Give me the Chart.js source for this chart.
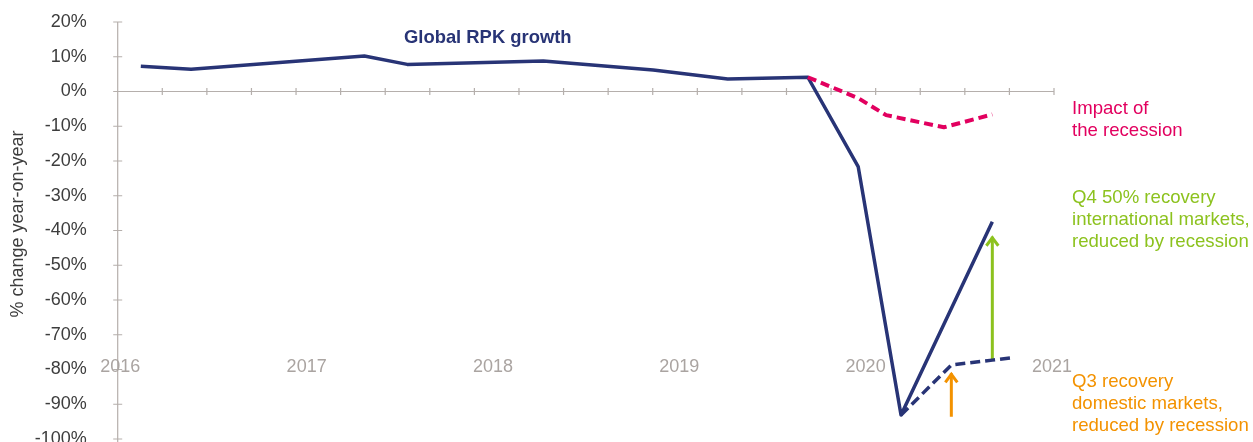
<!DOCTYPE html>
<html>
<head>
<meta charset="utf-8">
<script src="https://cdn.jsdelivr.net/npm/chart.js@4/dist/chart.umd.min.js"></script>
<style>
    html, body { margin: 0; padding: 0; background: #fff; overflow: hidden; }
    #wrap { position: absolute; left: 0; top: 0; width: 1253px; height: 460px; }
</style>
</head>
<body>
<div id="wrap"><canvas id="rpkChart" width="1253" height="460"></canvas></div>
<script>
// ─── Data ─────────────────────────────────────────────────
// x values are decimal years, y values are % change year-on-year
const rpkX       = [2016.11, 2016.38, 2017.31, 2017.54, 2018.27, 2018.86, 2019.26, 2019.69, 2019.96, 2020.19, 2020.68];
const rpkY       = [7.3, 6.4, 10.2, 7.8, 8.8, 6.2, 3.6, 4.1, -21.6, -93.1, -37.5];

const domesticX  = [2020.19, 2020.46, 2020.68, 2020.79];
const domesticY  = [-93.1, -78.7, -77.3, -76.6];

const recessionX = [2019.69, 2019.96, 2020.11, 2020.42, 2020.68];
const recessionY = [4.1, -1.9, -6.8, -10.3, -6.6];

// recovery arrows: [Q4 international, Q3 domestic]
const arrowX     = [2020.68, 2020.46];
const arrowFrom  = [-77.3, -93.6];
const arrowTo    = [-41.8, -81.1];

const yearLabels = ['2016', '2017', '2018', '2019', '2020', '2021'];
const yearValues = [2016, 2017, 2018, 2019, 2020, 2021];

const X_MIN = 2015.986, X_MAX = 2021.011, X_TICKS = 21;
const Y_MIN = -100, Y_MAX = 20, Y_STEP = 10;

// ─── Style ────────────────────────────────────────────────
const FONT   = "'Liberation Sans', Arial, Helvetica, sans-serif";
const NAVY   = '#283476';
const PINK   = '#e2005f';
const GREEN  = '#8cc21e';
const ORANGE = '#f39200';
const AXIS   = '#b5afac';

const pts = (xs, ys) => xs.map((x, i) => ({ x, y: ys[i] }));

// ─── Plugins ──────────────────────────────────────────────
// axis lines with tick marks crossing them
const axesPlugin = {
    id: 'axes',
    beforeDatasetsDraw(chart) {
        const { ctx, scales: { x, y } } = chart;
        const y0 = y.getPixelForValue(0);
        ctx.save();
        ctx.strokeStyle = AXIS;
        ctx.lineWidth = 1.2;
        ctx.beginPath();
        ctx.moveTo(x.left, y.getPixelForValue(Y_MAX));
        ctx.lineTo(x.left, chart.height);
        ctx.moveTo(x.left, y0);
        ctx.lineTo(x.right, y0);
        for (let v = Y_MIN; v <= Y_MAX; v += Y_STEP) {
            const py = y.getPixelForValue(v);
            ctx.moveTo(x.left - 4.5, py);
            ctx.lineTo(x.left + 4.5, py);
        }
        const step = (X_MAX - X_MIN) / X_TICKS;
        for (let i = 0; i <= X_TICKS; i++) {
            const px = x.getPixelForValue(X_MIN + i * step);
            ctx.moveTo(px, y0 - 3.5);
            ctx.lineTo(px, y0 + 3.5);
        }
        ctx.stroke();
        ctx.restore();
    }
};

// open chevron heads on the recovery arrows
const arrowPlugin = {
    id: 'arrows',
    afterDatasetsDraw(chart) {
        const { ctx } = chart;
        chart.data.datasets.forEach((ds, i) => {
            if (!ds.arrowHead) return;
            const meta = chart.getDatasetMeta(i);
            const tip = meta.data[meta.data.length - 1];
            ctx.save();
            ctx.strokeStyle = ds.borderColor;
            ctx.lineWidth = 3;
            ctx.lineJoin = 'miter';
            ctx.beginPath();
            ctx.moveTo(tip.x - 6, tip.y + 9);
            ctx.lineTo(tip.x, tip.y + 1);
            ctx.lineTo(tip.x + 6, tip.y + 9);
            ctx.stroke();
            ctx.restore();
        });
    }
};

const textPlugin = {
    id: 'texts',
    afterDraw(chart) {
        const { ctx, scales: { x, y } } = chart;
        ctx.save();

        // y axis title
        ctx.save();
        ctx.translate(18, 224);
        ctx.rotate(-Math.PI / 2);
        ctx.fillStyle = '#3d3d3d';
        ctx.font = `18px ${FONT}`;
        ctx.textAlign = 'center';
        ctx.textBaseline = 'middle';
        ctx.fillText('% change year-on-year', 0, 0);
        ctx.restore();

        // year labels, shown low on the chart
        ctx.fillStyle = '#aaa4a1';
        ctx.font = `18px ${FONT}`;
        ctx.textAlign = 'center';
        ctx.textBaseline = 'alphabetic';
        const yl = y.getPixelForValue(-80) + 2;
        yearValues.forEach((v, i) => ctx.fillText(yearLabels[i], x.getPixelForValue(v), yl));

        // annotations
        ctx.textAlign = 'left';
        ctx.fillStyle = NAVY;
        ctx.font = `bold 18.4px ${FONT}`;
        ctx.fillText('Global RPK growth', 404, 42.5);

        const tx = x.right + 18;
        ctx.font = `18.6px ${FONT}`;
        const block = (lines, color, base) => {
            ctx.fillStyle = color;
            lines.forEach((l, i) => ctx.fillText(l, tx, base + i * 21.7));
        };
        block(['Impact of', 'the recession'], PINK, 114.3);
        block(['Q4 50% recovery', 'international markets,', 'reduced by recession'], GREEN, 203.3);
        block(['Q3 recovery', 'domestic markets,', 'reduced by recession'], ORANGE, 387.3);

        ctx.restore();
    }
};

// ─── Chart ────────────────────────────────────────────────
const lineBase = { pointRadius: 0, tension: 0, borderJoinStyle: 'round', fill: false };

new Chart(document.getElementById('rpkChart'), {
    type: 'line',
    data: {
        datasets: [
            { ...lineBase, label: 'Recession', data: pts(recessionX, recessionY),
              borderColor: PINK, borderWidth: 4, borderDash: [9, 5] },
            { ...lineBase, label: 'Domestic', data: pts(domesticX, domesticY),
              borderColor: NAVY, borderWidth: 3.5, borderDash: [10, 5] },
            { ...lineBase, label: 'Global RPK growth', data: pts(rpkX, rpkY),
              borderColor: NAVY, borderWidth: 3.5 },
            { ...lineBase, label: 'Q4', arrowHead: true, borderColor: GREEN, borderWidth: 3,
              data: [{ x: arrowX[0], y: arrowFrom[0] }, { x: arrowX[0], y: arrowTo[0] }] },
            { ...lineBase, label: 'Q3', arrowHead: true, borderColor: ORANGE, borderWidth: 3,
              data: [{ x: arrowX[1], y: arrowFrom[1] }, { x: arrowX[1], y: arrowTo[1] }] },
        ]
    },
    options: {
        responsive: false,
        animation: false,
        layout: { padding: { left: 0, right: 199, top: 22, bottom: 21 } },
        plugins: { legend: { display: false }, tooltip: { enabled: false } },
        scales: {
            x: { type: 'linear', display: false, min: X_MIN, max: X_MAX },
            y: {
                min: Y_MIN, max: Y_MAX,
                // invisible tick marks give the gap between labels and axis
                grid: { display: true, drawOnChartArea: false, drawTicks: true,
                        tickLength: 31, color: 'rgba(0,0,0,0)' },
                border: { display: false },
                ticks: {
                    stepSize: Y_STEP,
                    padding: 0,
                    color: '#3d3d3d',
                    font: { family: FONT, size: 18 },
                    callback: v => v + '%'
                },
                afterFit: s => { s.width = 117.7; }
            }
        }
    },
    plugins: [axesPlugin, arrowPlugin, textPlugin]
});
</script>
</body>
</html>
